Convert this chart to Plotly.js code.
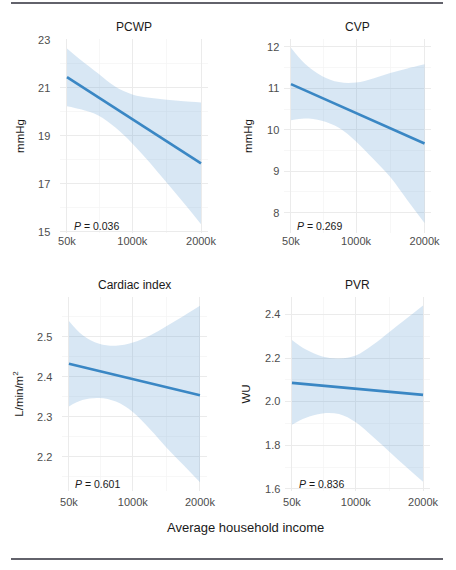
<!DOCTYPE html>
<html>
<head>
<meta charset="utf-8">
<script src="https://cdn.plot.ly/plotly-3.0.1.min.js"></script>
<style>
  html, body { margin: 0; padding: 0; background: #fff; }
  #chart { width: 456px; height: 570px; }
</style>
</head>
<body>
<div id="chart"></div>
<script>
// income in thousands
const income = [50, 250, 500, 750, 1000, 1250, 1500, 1750, 2000];
const fitX = [50, 2000];
const xTickVals = [50, 1000, 2000];
const xTickText = ["50k", "1000k", "2000k"];
const xMinor = [525, 1500];

const pcwpFit = [21.44, 17.85];
const pcwpUpper = [22.63, 22.15, 21.6, 21.05, 20.72, 20.58, 20.5, 20.44, 20.39];
const pcwpLower = [20.23, 20.1, 19.85, 19.35, 18.68, 17.9, 17.05, 16.2, 15.32];
const pcwpTicks = [15, 17, 19, 21, 23];
const pcwpMinor = [16, 18, 20, 22];

const cvpFit = [11.1, 9.67];
const cvpUpper = [11.98, 11.6, 11.3, 11.15, 11.14, 11.24, 11.37, 11.48, 11.58];
const cvpLower = [10.23, 10.27, 10.22, 10.05, 9.72, 9.3, 8.86, 8.3, 7.75];
const cvpTicks = [8, 9, 10, 11, 12];
const cvpMinor = [8.5, 9.5, 10.5, 11.5];

const ciFit = [2.433, 2.354];
const ciUpper = [2.54, 2.505, 2.483, 2.478, 2.486, 2.503, 2.527, 2.552, 2.578];
const ciLower = [2.326, 2.342, 2.347, 2.338, 2.312, 2.27, 2.223, 2.18, 2.136];
const ciTicks = [2.2, 2.3, 2.4, 2.5];
const ciMinor = [2.15, 2.25, 2.35, 2.45, 2.55];

const pvrFit = [2.086, 2.031];
const pvrUpper = [2.283, 2.24, 2.207, 2.198, 2.212, 2.26, 2.32, 2.38, 2.441];
const pvrLower = [1.894, 1.925, 1.946, 1.943, 1.905, 1.84, 1.77, 1.70, 1.632];
const pvrTicks = [1.6, 1.8, 2.0, 2.2, 2.4];
const pvrMinor = [1.7, 1.9, 2.1, 2.3];

const FONT = "Liberation Sans, Arial, Helvetica, sans-serif";
const LINE_COLOR = "#3a87c4";
const BAND_COLOR = "rgba(100,160,212,0.25)";

// lower edge first, then upper edge filled down to it
function bandTraces(xa, ya, upper, lower) {
    const edge = { color: "rgba(0,0,0,0)", width: 0, shape: "spline", smoothing: 1 };
    return [
        { x: income, y: lower, xaxis: xa, yaxis: ya, mode: "lines", line: edge,
          hoverinfo: "skip", showlegend: false },
        { x: income, y: upper, xaxis: xa, yaxis: ya, mode: "lines", line: edge,
          fill: "tonexty", fillcolor: BAND_COLOR, hoverinfo: "skip", showlegend: false }
    ];
}

function fitTrace(xa, ya, fit) {
    return {
        x: fitX, y: fit,
        xaxis: xa, yaxis: ya,
        mode: "lines",
        line: { color: LINE_COLOR, width: 2.6 },
        showlegend: false
    };
}

function xAxis(domain, anchor, standoff) {
    return {
        domain: domain,
        anchor: anchor,
        range: [-47.5, 2097.5],
        tickmode: "array",
        tickvals: xTickVals,
        ticktext: xTickText,
        ticks: "",
        ticklabelstandoff: standoff,
        tickfont: { family: FONT, size: 11, color: "#4d4d4d" },
        showgrid: true,
        gridcolor: "#ebebeb",
        gridwidth: 1,
        minor: { tickvals: xMinor, showgrid: true, gridcolor: "#f4f4f4", gridwidth: 0.7, ticks: "" },
        zeroline: false,
        showline: false
    };
}

function yAxis(domain, anchor, range, ticks, minor, title, fmt, standoff, titleStandoff) {
    return {
        domain: domain,
        anchor: anchor,
        range: range,
        tickmode: "array",
        tickvals: ticks,
        tickformat: fmt,
        ticks: "",
        ticklabelstandoff: standoff,
        tickfont: { family: FONT, size: 11, color: "#4d4d4d" },
        showgrid: true,
        gridcolor: "#ebebeb",
        gridwidth: 1,
        minor: { tickvals: minor, showgrid: true, gridcolor: "#f4f4f4", gridwidth: 0.7, ticks: "" },
        zeroline: false,
        showline: false,
        title: { text: title, font: { family: FONT, size: 11.5, color: "#1a1a1a" }, standoff: titleStandoff }
    };
}

function panelTitle(xa, ya, text) {
    return {
        xref: xa + " domain", yref: ya + " domain",
        x: 0.5, y: 1, yshift: 12,
        xanchor: "center", yanchor: "middle",
        text: text, showarrow: false,
        font: { family: FONT, size: 12, color: "#1a1a1a" }
    };
}

function pLabel(xa, ya, x, p) {
    return {
        xref: xa + " domain", yref: ya + " domain",
        x: x, y: 0.037,
        xanchor: "left", yanchor: "middle",
        text: "<i>P</i> = " + p, showarrow: false,
        font: { family: FONT, size: 10.5, color: "#1a1a1a" }
    };
}

const data = [].concat(
    bandTraces("x", "y", pcwpUpper, pcwpLower), [fitTrace("x", "y", pcwpFit)],
    bandTraces("x2", "y2", cvpUpper, cvpLower), [fitTrace("x2", "y2", cvpFit)],
    bandTraces("x3", "y3", ciUpper, ciLower), [fitTrace("x3", "y3", ciFit)],
    bandTraces("x4", "y4", pvrUpper, pvrLower), [fitTrace("x4", "y4", pvrFit)]
);

const topRow = [0.5912, 0.9316];
const bottomRow = [0.1386, 0.4789];

const layout = {
    width: 456, height: 570,
    margin: { l: 0, r: 0, t: 0, b: 0 },
    paper_bgcolor: "#ffffff",
    plot_bgcolor: "#ffffff",
    showlegend: false,
    xaxis: xAxis([0.1322, 0.4555], "y", 0),
    yaxis: yAxis(topRow, "x", [14.95, 23.03], pcwpTicks, pcwpMinor, "mmHg", "", 9, 11),
    xaxis2: xAxis([0.6235, 0.9456], "y2", 0),
    yaxis2: yAxis(topRow, "x2", [7.51, 12.19], cvpTicks, cvpMinor, "mmHg", "", 4, 12),
    xaxis3: xAxis([0.1368, 0.4529], "y3", 3),
    yaxis3: yAxis(bottomRow, "x3", [2.114, 2.60], ciTicks, ciMinor, "L/min/m<sup>2</sup>", ".1f", 9, 11),
    xaxis4: xAxis([0.6259, 0.9421], "y4", 3),
    yaxis4: yAxis(bottomRow, "x4", [1.59, 2.48], pvrTicks, pvrMinor, "WU", ".1f", 4, 12),
    annotations: [
        panelTitle("x", "y", "PCWP"),
        panelTitle("x2", "y2", "CVP"),
        panelTitle("x3", "y3", "Cardiac index"),
        panelTitle("x4", "y4", "PVR"),
        pLabel("x", "y", 0.079, "0.036"),
        pLabel("x2", "y2", 0.073, "0.269"),
        pLabel("x3", "y3", 0.074, "0.601"),
        pLabel("x4", "y4", 0.08, "0.836"),
        {
            xref: "paper", yref: "paper",
            x: 245.5 / 456, y: 1 - 527 / 570,
            xanchor: "center", yanchor: "middle",
            text: "Average household income", showarrow: false,
            font: { family: FONT, size: 13, color: "#1a1a1a" }
        }
    ],
    shapes: [
        { type: "line", xref: "paper", yref: "paper", x0: 11 / 456, x1: 443 / 456, y0: 1 - 3 / 570, y1: 1 - 3 / 570,
          line: { color: "#2e2e3a", width: 1.5 } },
        { type: "line", xref: "paper", yref: "paper", x0: 11 / 456, x1: 443 / 456, y0: 1 - 559 / 570, y1: 1 - 559 / 570,
          line: { color: "#2e2e3a", width: 1.5 } }
    ]
};

Plotly.newPlot("chart", data, layout, { staticPlot: true, displayModeBar: false });
</script>
</body>
</html>
